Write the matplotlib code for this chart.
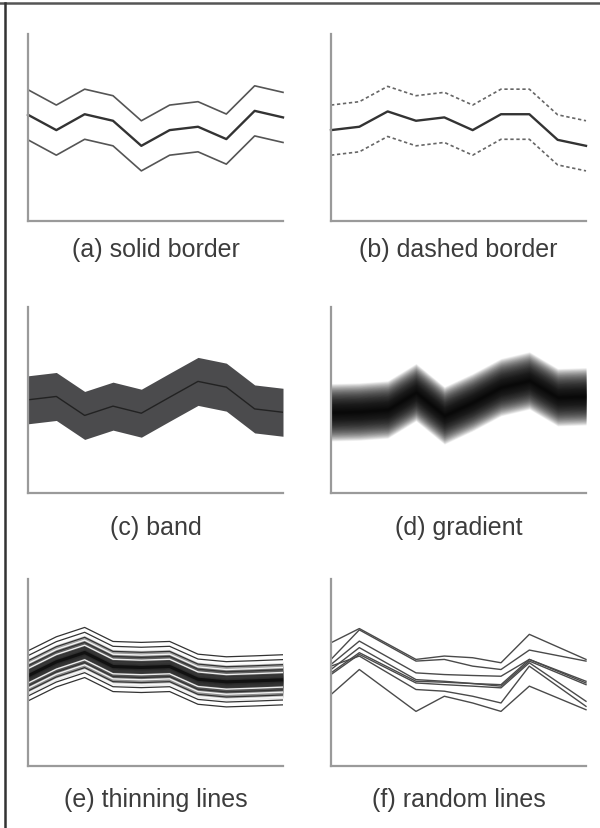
import matplotlib
matplotlib.use("Agg")
import matplotlib.pyplot as plt
from matplotlib.lines import Line2D
import numpy as np

plt.rcParams['font.family'] = ['Liberation Sans', 'DejaVu Sans']

# ---- data ----
x10 = [0, 1, 2, 3, 4, 5, 6, 7, 8, 9]

a_mid = [56.8, 48.6, 57.1, 53.6, 40.2, 48.6, 50.4, 43.8, 58.9, 55.4]
a_off = 13.4

b_mid = [48.6, 50.4, 58.6, 53.6, 55.4, 48.6, 57.1, 57.1, 43.4, 40.2]
b_off = 13.4

c_mid = [50.1, 51.9, 41.7, 46.7, 42.9, 51.5, 60.0, 56.9, 45.2, 43.4]
c_off = 12.9

d_mid = [43.4, 43.8, 44.9, 54.2, 41.7, 48.8, 56.9, 60.5, 51.5, 52.0]
d_half = 15.5

e_mid = [48.2, 55.7, 60.7, 53.2, 52.7, 53.2, 46.4, 45.0, 45.5, 46.1]
e_line_offsets = [2.7, 5.4, 8.1, 10.8, 13.4]

f_x = [0, 1, 3, 4, 5, 6, 7, 9]
f_lines = [
    [65.9, 73.5, 57.0, 58.8, 57.9, 55.2, 70.4, 57.0],
    [57.0, 72.8, 56.1, 57.0, 53.4, 51.6, 62.0, 56.1],
    [54.3, 66.8, 49.8, 48.9, 48.4, 48.0, 57.0, 44.4],
    [51.6, 63.3, 46.2, 45.3, 44.1, 42.7, 56.1, 43.5],
    [48.9, 59.7, 44.4, 43.5, 42.7, 41.8, 55.2, 34.6],
    [53.4, 58.8, 40.9, 40.0, 37.3, 33.7, 53.4, 31.9],
    [38.2, 51.6, 29.2, 37.3, 33.7, 29.2, 42.7, 30.1],
    [49.8, 60.6, 45.3, 44.8, 44.1, 43.5, 57.0, 45.3],
]

labels = ["(a) solid border", "(b) dashed border", "(c) band",
          "(d) gradient", "(e) thinning lines", "(f) random lines"]

# ---- figure ----
W, H = 600, 829
fig = plt.figure(figsize=(W / 100, H / 100), dpi=100)
fig.patch.set_facecolor('white')

def px_axes(left, top, right, bottom):
    return fig.add_axes([left / W, 1 - bottom / H, (right - left) / W, (bottom - top) / H])

boxes = [
    (28, 35, 283, 222), (331, 35, 586, 222),
    (28, 308, 283, 494), (331, 308, 586, 494),
    (28, 580, 283, 767), (331, 580, 586, 767),
]
label_y = [250, 250, 528, 528, 800, 800]

axes = []
for (l, t, r, b) in boxes:
    ax = px_axes(l, t, r, b)
    ax.set_xlim(0, 9)
    ax.set_ylim(0, 100)
    for s in ['top', 'right']:
        ax.spines[s].set_visible(False)
    for s in ['left', 'bottom']:
        ax.spines[s].set_color('#9a9a9a')
        ax.spines[s].set_linewidth(1.6)
    ax.set_xticks([])
    ax.set_yticks([])
    ax.patch.set_alpha(0)
    axes.append(ax)

LINE_C = '#555555'

# (a) solid border
ax = axes[0]
a_mid_arr = np.array(a_mid)
ax.plot(x10, a_mid_arr, color='#333333', lw=1.7, clip_on=False)
ax.plot(x10, a_mid_arr + a_off, color=LINE_C, lw=1.2, clip_on=False)
ax.plot(x10, a_mid_arr - a_off, color=LINE_C, lw=1.2, clip_on=False)

# (b) dashed border
ax = axes[1]
b_mid_arr = np.array(b_mid)
ax.plot(x10, b_mid_arr, color='#333333', lw=1.7, clip_on=False)
ax.plot(x10, b_mid_arr + b_off, color='#666666', lw=1.2, ls=(0, (2.0, 1.6)), clip_on=False)
ax.plot(x10, b_mid_arr - b_off, color='#666666', lw=1.2, ls=(0, (2.0, 1.6)), clip_on=False)

# (c) band
ax = axes[2]
c_mid_arr = np.array(c_mid)
ax.fill_between(x10, c_mid_arr - c_off, c_mid_arr + c_off, color='#4b4b4d', lw=0)
ax.plot(x10, c_mid_arr, color='#222222', lw=1.0)

# (d) gradient
ax = axes[3]
d_mid_arr = np.array(d_mid)
n_layers = 70
for i in range(n_layers, 0, -1):
    w = d_half * i / n_layers
    ax.fill_between(x10, d_mid_arr - w, d_mid_arr + w, color='black', alpha=0.036, lw=0)

# (e) thinning lines
ax = axes[4]
e_mid_arr = np.array(e_mid)
n_layers = 40
for i in range(n_layers, 0, -1):
    w = 10.0 * i / n_layers
    ax.fill_between(x10, e_mid_arr - w, e_mid_arr + w, color='black', alpha=0.045, lw=0)
for k, off in enumerate(e_line_offsets):
    for sgn in (1, -1):
        ax.plot(x10, e_mid_arr + sgn * (off + 1.2), color='white', lw=1.0, alpha=0.9)
        ax.plot(x10, e_mid_arr + sgn * off, color='#333333', lw=0.9)
ax.plot(x10, e_mid_arr, color='#111111', lw=2.2)

# (f) random lines
ax = axes[5]
for ln in f_lines:
    ax.plot(f_x, ln, color='#4a4a4a', lw=1.0, clip_on=False)

for ax, lab, ly, (l, t, r, b) in zip(axes, labels, label_y, boxes):
    fig.text(((l + r) / 2) / W, 1 - ly / H, lab, ha='center', va='center',
             fontsize=18, color='#3c3c3c')

# outer frame: top and left lines
fig.add_artist(Line2D([0, 1], [1 - 3.5 / H, 1 - 3.5 / H], color='#555555', lw=1.8))
fig.add_artist(Line2D([5 / W, 5 / W], [0, 1 - 3.5 / H], color='#333333', lw=1.8))

fig.savefig('out.png', dpi=100)
